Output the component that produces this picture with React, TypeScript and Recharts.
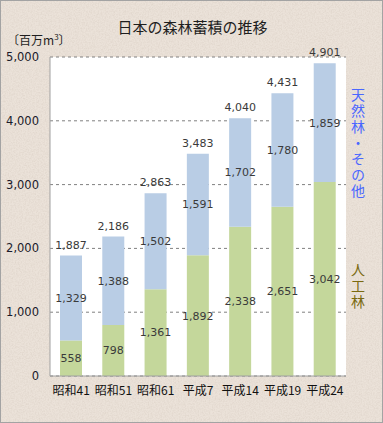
import { BarChart, Bar, XAxis, YAxis, CartesianGrid, LabelList } from "recharts";

const periods = ["昭和41", "昭和51", "昭和61", "平成7", "平成14", "平成19", "平成24"];
const planted = [558, 798, 1361, 1892, 2338, 2651, 3042];
const natural = [1329, 1388, 1502, 1591, 1702, 1780, 1859];
const totals = [1887, 2186, 2863, 3483, 4040, 4431, 4901];
const yTicks = [0, 1000, 2000, 3000, 4000, 5000];
const boundaryTicks = [1, 2, 3, 4, 5, 6];

const data = periods.map((p, i) => ({
  period: p,
  planted: planted[i],
  natural: natural[i],
  total: totals[i],
}));

const numFont = "'DejaVu Sans', sans-serif";
const jpFont = "'Noto Sans CJK JP', sans-serif";
const labelStyle = { fontSize: 11, fill: "#3a3a3a", fontFamily: numFont };
const fmt = (v: any) => Number(v).toLocaleString("en-US");

// paper-like background texture
function Paper() {
  return (
    <svg width={381} height={421} style={{ position: "absolute", left: 0, top: 0 }}>
      <filter id="paper">
        <feTurbulence type="fractalNoise" baseFrequency="0.7" numOctaves={3} seed={4} />
        <feColorMatrix values="0 0 0 0 0.62  0 0 0 0 0.54  0 0 0 0 0.47  0.7 0 0 0 -0.25" />
      </filter>
      <rect width="100%" height="100%" fill="#ebe2d9" />
      <rect width="100%" height="100%" filter="url(#paper)" />
    </svg>
  );
}

export default function App() {
  return (
    <div
      style={{
        position: "absolute",
        left: 0,
        top: 0,
        width: 383,
        height: 423,
        boxSizing: "border-box",
        border: "1px solid #a3a3a3",
        background: "#e7ddd3",
        fontFamily: jpFont,
      }}
    >
      <Paper />
      <div style={{ position: "absolute", left: 0, top: 0 }}>
        <BarChart
          width={381}
          height={421}
          data={data}
          margin={{ top: 56, right: 36, left: 0, bottom: 16 }}
          barSize={22}
        >
          <CartesianGrid vertical={false} strokeDasharray="3 3" stroke="#808080" fill="#ffffff" fillOpacity={1} />
          <XAxis
            xAxisId="bounds"
            type="number"
            domain={[0, 7]}
            ticks={boundaryTicks}
            allowDataOverflow
            mirror
            height={0}
            tick={false}
            axisLine={false}
            tickSize={4}
            stroke="#909090"
          />
          <XAxis
            dataKey="period"
            tickLine={false}
            tickSize={6}
            tickMargin={4}
            height={30}
            stroke="#a0a0a0"
            interval={0}
            tick={{ fontSize: 12, fill: "#111", fontFamily: jpFont }}
          />
          <XAxis xAxisId="top" orientation="top" height={0} tick={false} tickLine={false} stroke="#a0a0a0" />
          <YAxis
            domain={[0, 5000]}
            ticks={yTicks}
            width={49}
            tickLine={false}
            tickSize={6}
            tickMargin={5}
            stroke="#a0a0a0"
            tickFormatter={fmt}
            tick={{ fontSize: 11.5, fill: "#1a1a2a", fontFamily: numFont }}
          />
          <YAxis yAxisId="right" orientation="right" width={0} tick={false} tickLine={false} stroke="#a0a0a0" />
          <Bar dataKey="planted" stackId="a" fill="#c4d79b" isAnimationActive={false}>
            <LabelList dataKey="planted" position="center" formatter={fmt} style={labelStyle} />
          </Bar>
          <Bar dataKey="natural" stackId="a" fill="#b9cde5" isAnimationActive={false}>
            <LabelList dataKey="natural" position="center" formatter={fmt} style={labelStyle} />
            <LabelList dataKey="total" position="top" offset={7} formatter={fmt} style={labelStyle} />
          </Bar>
        </BarChart>
      </div>
      <div
        style={{
          position: "absolute",
          left: 0,
          width: 383,
          top: 16,
          textAlign: "center",
          fontSize: 15,
          color: "#1e1e1e",
          lineHeight: "20px",
        }}
      >
        日本の森林蓄積の推移
      </div>
      <div style={{ position: "absolute", left: 6, top: 28, fontSize: 12, color: "#1e1e1e", lineHeight: "16px" }}>
        〔百万m<sup style={{ fontSize: 8 }}>3</sup>〕
      </div>
      <div
        style={{
          position: "absolute",
          left: 349,
          top: 87,
          writingMode: "vertical-rl",
          fontSize: 14,
          letterSpacing: 2,
          color: "#4a67ff",
          lineHeight: "16px",
        }}
      >
        天然林・その他
      </div>
      <div
        style={{
          position: "absolute",
          left: 349,
          top: 262,
          writingMode: "vertical-rl",
          fontSize: 14,
          letterSpacing: 2,
          color: "#7a6a10",
          lineHeight: "16px",
        }}
      >
        人工林
      </div>
    </div>
  );
}
